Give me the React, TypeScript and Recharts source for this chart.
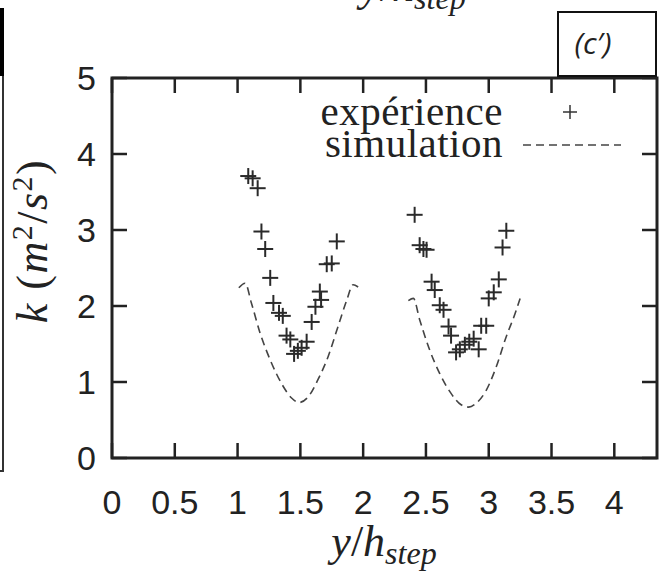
import { ComposedChart, Line, Scatter, XAxis, YAxis, ReferenceArea } from "recharts";

// experimental points (y/h_step, k)
const expLeft = [
  { x: 1.085, k: 3.71 }, { x: 1.12, k: 3.68 }, { x: 1.16, k: 3.55 }, { x: 1.19, k: 2.98 },
  { x: 1.22, k: 2.75 }, { x: 1.26, k: 2.37 }, { x: 1.285, k: 2.04 }, { x: 1.33, k: 1.91 },
  { x: 1.36, k: 1.87 }, { x: 1.39, k: 1.61 }, { x: 1.42, k: 1.56 }, { x: 1.45, k: 1.37 },
  { x: 1.48, k: 1.41 }, { x: 1.51, k: 1.45 }, { x: 1.55, k: 1.53 }, { x: 1.59, k: 1.79 },
  { x: 1.62, k: 1.99 }, { x: 1.655, k: 2.19 }, { x: 1.665, k: 2.08 }, { x: 1.71, k: 2.55 },
  { x: 1.75, k: 2.56 }, { x: 1.79, k: 2.85 },
];
const expRight = [
  { x: 2.41, k: 3.2 }, { x: 2.45, k: 2.8 }, { x: 2.48, k: 2.75 }, { x: 2.505, k: 2.74 },
  { x: 2.545, k: 2.32 }, { x: 2.57, k: 2.21 }, { x: 2.61, k: 2.01 }, { x: 2.64, k: 1.95 },
  { x: 2.68, k: 1.73 }, { x: 2.7, k: 1.61 }, { x: 2.74, k: 1.39 }, { x: 2.77, k: 1.43 },
  { x: 2.81, k: 1.49 }, { x: 2.845, k: 1.53 }, { x: 2.88, k: 1.57 }, { x: 2.92, k: 1.43 },
  { x: 2.94, k: 1.74 }, { x: 2.98, k: 1.74 }, { x: 3.0, k: 2.1 }, { x: 3.04, k: 2.18 },
  { x: 3.08, k: 2.35 }, { x: 3.11, k: 2.77 }, { x: 3.14, k: 2.99 },
];
// simulation curves
const simLeft = [
  { x: 1.01, k: 2.24 }, { x: 1.06, k: 2.3 }, { x: 1.11, k: 2.04 }, { x: 1.18, k: 1.64 },
  { x: 1.26, k: 1.29 }, { x: 1.35, k: 0.98 }, { x: 1.43, k: 0.79 }, { x: 1.49, k: 0.73 },
  { x: 1.56, k: 0.8 }, { x: 1.64, k: 1.03 }, { x: 1.72, k: 1.33 }, { x: 1.8, k: 1.73 },
  { x: 1.87, k: 2.08 }, { x: 1.92, k: 2.28 }, { x: 1.96, k: 2.25 },
];
const simRight = [
  { x: 2.36, k: 2.07 }, { x: 2.4, k: 2.1 }, { x: 2.45, k: 1.82 }, { x: 2.53, k: 1.42 },
  { x: 2.61, k: 1.11 }, { x: 2.7, k: 0.85 }, { x: 2.78, k: 0.7 }, { x: 2.84, k: 0.67 },
  { x: 2.9, k: 0.72 }, { x: 2.98, k: 0.89 }, { x: 3.06, k: 1.2 }, { x: 3.14, k: 1.6 },
  { x: 3.21, k: 1.9 }, { x: 3.25, k: 2.1 },
];

const xTicks = [0, 0.5, 1, 1.5, 2, 2.5, 3, 3.5, 4];
const yTicks = [0, 1, 2, 3, 4, 5];
const xMax = 4.34;
const yMax = 5;

const W = 664;
const H = 575;
const TOP = 78;
const BOTTOM = 458;
const LEFT = 112;
const RIGHT = 657;
const INK = "#222";
const serif = "Liberation Serif";
const sans = "Liberation Sans";

const BottomTick = (props: any) => {
  const { x, y, payload } = props;
  return (
    <g>
      <line x1={x} x2={x} y1={y} y2={y - 15} stroke={INK} strokeWidth={2.5} />
      <line x1={x} x2={x} y1={TOP} y2={TOP + 15} stroke={INK} strokeWidth={2.5} />
      <text x={x} y={y + 56} textAnchor="middle" fontFamily={sans} fontSize={34} fill={INK}>
        {payload.value}
      </text>
    </g>
  );
};

const LeftTick = (props: any) => {
  const { x, y, payload } = props;
  return (
    <g>
      <line x1={x} x2={x + 15} y1={y} y2={y} stroke={INK} strokeWidth={2.5} />
      <line x1={RIGHT - 15} x2={RIGHT} y1={y} y2={y} stroke={INK} strokeWidth={2.5} />
      <text x={x - 16} y={y + 12} textAnchor="end" fontFamily={sans} fontSize={34} fill={INK}>
        {payload.value}
      </text>
    </g>
  );
};

const Cross = (props: any) => {
  const { cx, cy } = props;
  const r = 8;
  return (
    <g stroke="#2a2a2a" strokeWidth={2}>
      <line x1={cx - r} x2={cx + r} y1={cy} y2={cy} />
      <line x1={cx} x2={cx} y1={cy - r} y2={cy + r} />
    </g>
  );
};

const StepTitle = ({ x, y }: { x: number; y: number }) => (
  <text x={x} y={y} textAnchor="middle" fontFamily={serif} fontSize={44} fill={INK}>
    <tspan fontStyle="italic">y</tspan>
    <tspan>/</tspan>
    <tspan fontStyle="italic">h</tspan>
    <tspan fontStyle="italic" fontSize={32} dy={8}>step</tspan>
  </text>
);

const App = () => {
  return (
    <div style={{ position: "absolute", left: 0, top: 0, width: W, height: H, background: "#fff" }}>
      <ComposedChart width={W} height={H} margin={{ top: TOP, right: W - RIGHT, bottom: 0, left: 0 }}>
        <XAxis
          type="number"
          dataKey="x"
          domain={[0, xMax]}
          ticks={xTicks}
          height={H - BOTTOM}
          tickSize={0}
          tickMargin={0}
          axisLine={false}
          tick={<BottomTick />}
          interval={0}
        />
        <YAxis
          type="number"
          dataKey="k"
          domain={[0, yMax]}
          ticks={yTicks}
          width={LEFT}
          tickSize={0}
          tickMargin={0}
          axisLine={false}
          tick={<LeftTick />}
          interval={0}
        />
        <ReferenceArea x1={0} x2={xMax} y1={0} y2={yMax} fill="none" stroke={INK} strokeWidth={3} />
        <Line data={simLeft} dataKey="k" type="monotone" stroke="#444" strokeWidth={1.6} strokeDasharray="8 5" dot={false} isAnimationActive={false} />
        <Line data={simRight} dataKey="k" type="monotone" stroke="#444" strokeWidth={1.6} strokeDasharray="8 5" dot={false} isAnimationActive={false} />
        <Scatter data={expLeft} dataKey="k" shape={<Cross />} isAnimationActive={false} />
        <Scatter data={expRight} dataKey="k" shape={<Cross />} isAnimationActive={false} />
      </ComposedChart>
      <svg width={W} height={H} style={{ position: "absolute", left: 0, top: 0, pointerEvents: "none" }}>
        {/* neighbouring panel edge */}
        <line x1={2} x2={2} y1={8} y2={76} stroke="#000" strokeWidth={4} />
        <line x1={0} x2={4} y1={9} y2={9} stroke="#000" strokeWidth={2} />
        <line x1={3} x2={3} y1={76} y2={471} stroke="#333" strokeWidth={2} />
        <line x1={0} x2={4} y1={471} y2={471} stroke="#333" strokeWidth={2} />
        {/* cropped title of the panel above */}
        <StepTitle x={413} y={1} />
        {/* panel label */}
        <rect x={558} y={12} width={98} height={64} fill="#fff" stroke="#111" strokeWidth={2} />
        <text x={593} y={54} textAnchor="middle" fontFamily="Open Sans" fontStyle="italic" fontSize={30} fill={INK}>
          (c′)
        </text>
        {/* legend */}
        <text x={503} y={125} textAnchor="end" fontFamily={serif} fontSize={41} letterSpacing={0.5} fill={INK}>expérience</text>
        <text x={503} y={157} textAnchor="end" fontFamily={serif} fontSize={41} letterSpacing={0.5} fill={INK}>simulation</text>
        <g stroke="#333" strokeWidth={1.5}>
          <line x1={563} x2={577} y1={112} y2={112} />
          <line x1={570} x2={570} y1={105} y2={119} />
        </g>
        <line x1={523} x2={621} y1={145} y2={145} stroke="#444" strokeWidth={1.5} strokeDasharray="8 5" />
        {/* axis title */}
        <text transform="rotate(-90 47 241)" x={47} y={241} textAnchor="middle" fontFamily={serif} fontSize={44} letterSpacing={1.5} fill={INK}>
          <tspan fontStyle="italic">k</tspan>
          <tspan> (</tspan>
          <tspan fontStyle="italic">m</tspan>
          <tspan fontSize={30} dy={-15}>2</tspan>
          <tspan dy={15}>/</tspan>
          <tspan fontStyle="italic">s</tspan>
          <tspan fontSize={30} dy={-15}>2</tspan>
          <tspan dy={15}>)</tspan>
        </text>
        <StepTitle x={384} y={556} />
      </svg>
    </div>
  );
};

export default App;
